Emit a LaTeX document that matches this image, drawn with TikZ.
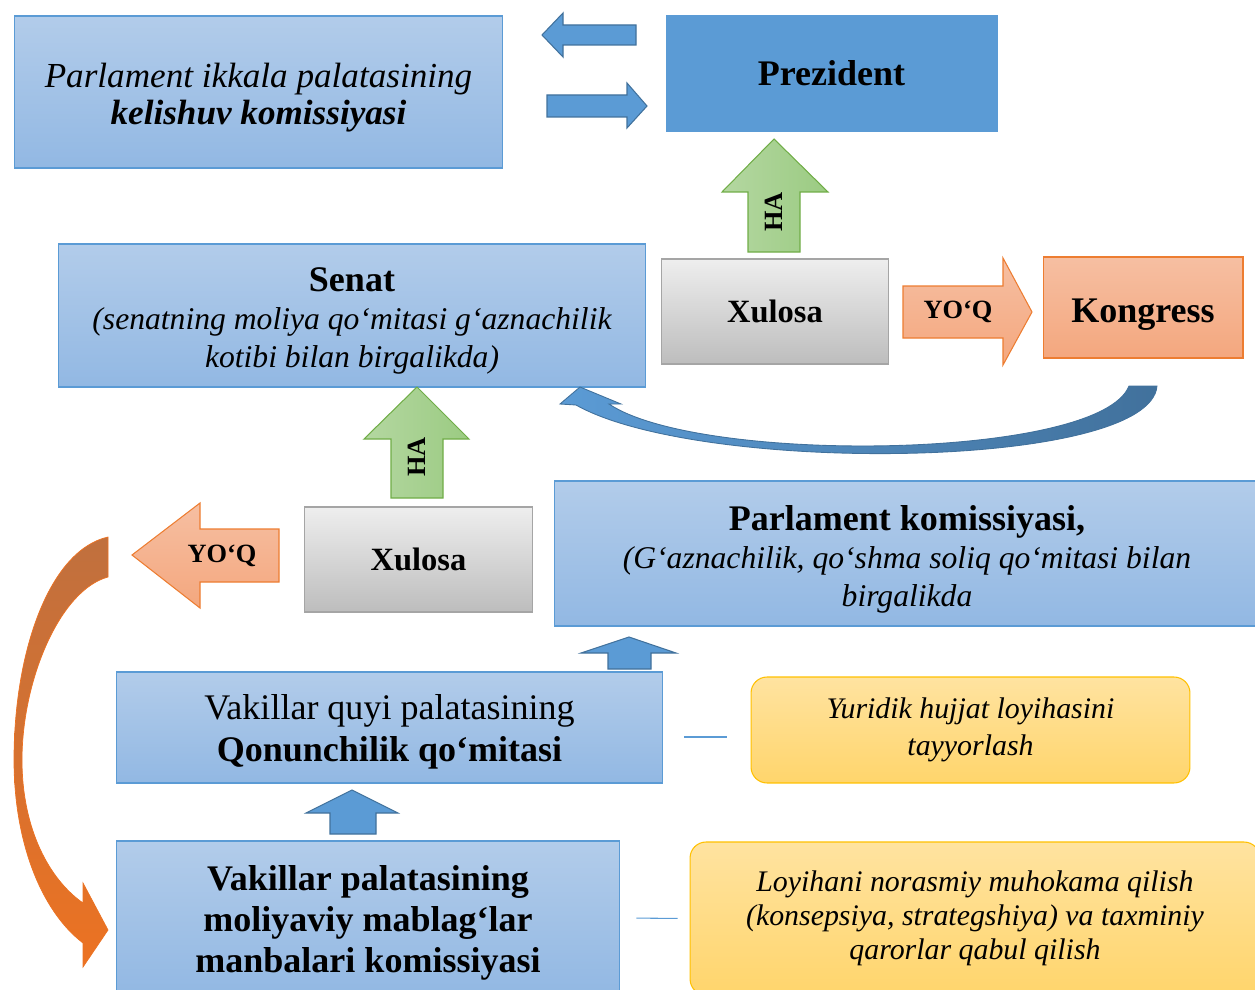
\documentclass[tikz,border=0pt]{standalone}
\usepackage{fontspec}
\setmainfont{Liberation Serif}
\usetikzlibrary{positioning,calc}

\definecolor{boxtop}{HTML}{B2CCEA}
\definecolor{boxbot}{HTML}{92B8E3}
\definecolor{boxline}{HTML}{5B9BD5}
\definecolor{presfill}{HTML}{5B9BD5}
\definecolor{arrblue}{HTML}{5B9BD5}
\definecolor{arrblueline}{HTML}{41719C}
\definecolor{graytop}{HTML}{EEEEEE}
\definecolor{graybot}{HTML}{BDBDBD}
\definecolor{grayline}{HTML}{A5A5A5}
\definecolor{grtop}{HTML}{B4D7A1}
\definecolor{grbot}{HTML}{9BCB82}
\definecolor{grline}{HTML}{70AD47}
\definecolor{ortop}{HTML}{F6BFA2}
\definecolor{orbot}{HTML}{F4A77E}
\definecolor{orline}{HTML}{ED7D31}
\definecolor{yetop}{HTML}{FFE3A0}
\definecolor{yebot}{HTML}{FFD56C}
\definecolor{yeline}{HTML}{FFC000}
\definecolor{curvtop}{HTML}{C0703E}
\definecolor{curvbot}{HTML}{EC7222}

\newcommand\fsbig{\fontsize{20.5}{23}\selectfont}
\newcommand\fsxul{\fontsize{18.5}{22}\selectfont}
\newcommand\fstag{\fontsize{15}{18}\selectfont}
\newcommand\lift[1]{\rule{0pt}{#1}}

\begin{document}
\begin{tikzpicture}[x=0.02cm, y=-0.02cm,
      box/.style    = {draw=boxline, line width=0.6pt, top color=boxtop,
                       bottom color=boxbot, align=center, inner sep=2pt},
      xul/.style    = {draw=grayline, line width=0.6pt, top color=graytop,
                       bottom color=graybot, font=\fsxul\bfseries,
                       minimum width=4.55cm, minimum height=2.1cm},
      note/.style   = {draw=yeline, line width=0.6pt, rounded corners=0.32cm,
                       top color=yetop, bottom color=yebot, align=center,
                       font=\fontsize{17}{21}\selectfont\itshape},
      blkblue/.style  = {draw=arrblueline, line width=0.6pt, fill=arrblue},
      blkgreen/.style = {draw=grline, line width=0.6pt, left color=grtop,
                         right color=grbot},
      blkorange/.style= {draw=orline, line width=0.6pt, top color=ortop,
                         bottom color=orbot},
      tag/.style    = {font=\fstag\bfseries, inner sep=0pt},
      tie/.style    = {draw=boxline, line width=0.6pt},
    ]
    \useasboundingbox (0,0) rectangle (1255,990);

    % top row
    \node[box, minimum width=9.78cm, minimum height=3.04cm,
          font=\fontsize{20}{21}\selectfont] (kel) at (258.5,92)
      {\lift{20.5pt}\itshape Parlament ikkala palatasining\\
       \bfseries\itshape kelishuv komissiyasi};
    \node[draw=presfill, fill=presfill, minimum width=6.62cm,
          minimum height=2.32cm, font=\fsbig\bfseries] (pres) at (831.5,73)
      {Prezident};

    % second row
    \node[box, minimum width=11.76cm, minimum height=2.86cm,
          font=\fontsize{18}{21.5}\selectfont] (senat) at (352,315.5)
      {\lift{19.5pt}{\fsbig\bfseries Senat}\\
       \itshape (senatning moliya qo‘mitasi g‘aznachilik\\
       \itshape kotibi bilan birgalikda)};
    \node[xul] (xulA) at (775,311.5) {Xulosa};
    \node[draw=orline, line width=0.6pt, top color=ortop, bottom color=orbot,
          minimum width=4cm, minimum height=2.02cm, font=\fsbig\bfseries,
          text height=17.5pt, text depth=0pt] (kong) at (1143,307.5)
      {Kongress};

    % third row
    \node[xul] (xulB) at (418.5,559.5) {Xulosa};
    \node[box, minimum width=14.12cm, minimum height=2.9cm,
          font=\fontsize{18}{21.5}\selectfont] (parl) at (907,553.5)
      {\lift{20.8pt}{\fsbig\bfseries Parlament komissiyasi,}\\
       \itshape (G‘aznachilik, qo‘shma soliq qo‘mitasi bilan\\
       \itshape birgalikda};

    % lower rows
    \node[box, minimum width=10.94cm, minimum height=2.22cm,
          font=\fontsize{20.5}{24}\selectfont] (vq) at (389.5,727.5)
      {\lift{19.6pt}Vakillar quyi palatasining\\ \bfseries Qonunchilik qo‘mitasi};
    \node[note, minimum width=8.78cm, minimum height=2.12cm] (yelA)
      at (970.5,730) {Yuridik hujjat loyihasini\\ tayyorlash};
    \node[box, minimum width=10.08cm, minimum height=3.08cm,
          font=\fontsize{20.5}{23.5}\selectfont\bfseries] (vp) at (368,918)
      {\lift{19.6pt}Vakillar palatasining\\ moliyaviy mablag‘lar\\
       manbalari komissiyasi};
    \node[note, minimum width=11.4cm, minimum height=3.06cm,
          font=\fontsize{17}{19.5}\selectfont\itshape] (yelB) at (975,918.5)
      {Loyihani norasmiy muhokama qilish\\
       (konsepsiya, strategshiya) va taxminiy\\
       qarorlar qabul qilish};

    \draw[tie, shorten <=0.42cm, shorten >=0.48cm]
      ([yshift=-0.19cm]vq.east) -- ([yshift=-0.19cm]vq.east -| yelA.west);
    \draw[tie, shorten <=0.32cm, shorten >=0.24cm] (vp.east) -- (yelB.west);

    % block arrows
    \draw[blkblue] (636,25) -- (563,25) -- (563,13) -- (542,35) -- (563,57)
      -- (563,45) -- (636,45) -- cycle;
    \draw[blkblue] (547,95) -- (627,95) -- (627,83) -- (647,106) -- (627,128)
      -- (627,117) -- (547,117) -- cycle;
    \draw[blkgreen] (748,252) -- (748,192) -- (722,192) -- (774,139)
      -- (828,192) -- (800,192) -- (800,252) -- cycle;
    \node[tag, rotate=90] (haA) at (774,212) {HA};
    \draw[blkorange] (903,286) -- (1003,286) -- (1003,258) -- (1032,312)
      -- (1003,365) -- (1003,338) -- (903,338) -- cycle;
    \node[tag] (yoqA) at (958,312) {YO‘Q};
    \draw[blkgreen] (391,498) -- (391,439) -- (364,439) -- (417,387)
      -- (469,439) -- (443,439) -- (443,498) -- cycle;
    \node[tag, rotate=90] (haB) at (417,457) {HA};
    \draw[blkorange] (279,529) -- (200,529) -- (200,503) -- (132,555)
      -- (200,608) -- (200,582) -- (279,582) -- cycle;
    \node[tag] (yoqB) at (222,556) {YO‘Q};
    \draw[blkblue] (608,669) -- (608,653) -- (581,653) -- (629,637)
      -- (676,653) -- (651,653) -- (651,669) -- cycle;
    \draw[blkblue] (330,834) -- (330,813) -- (306,813) -- (352,790)
      -- (398,813) -- (376,813) -- (376,834) -- cycle;

    % curved arrows
    \draw[draw=arrblueline, line width=0.5pt, left color=arrblue,
          right color=arrblueline]
      (576,405) -- (560,404) -- (580,387) -- (621,404) -- (609,404)
      .. controls (700,465) and (1100,460) .. (1129,386) -- (1157,386)
      .. controls (1150,470) and (700,475) .. (576,405) -- cycle;
    \draw[draw=curvbot, line width=0.4pt, top color=curvtop,
          bottom color=curvbot]
      (108,537) -- (108,577) .. controls (60,590) and (22,680) .. (22,760)
      .. controls (22,830) and (50,880) .. (83,903) -- (83,883) -- (108,930)
      -- (83,967) -- (83,943) .. controls (40,910) and (14,840) .. (14,760)
      .. controls (14,650) and (50,550) .. (108,537) -- cycle;
  \end{tikzpicture}
\end{document}
